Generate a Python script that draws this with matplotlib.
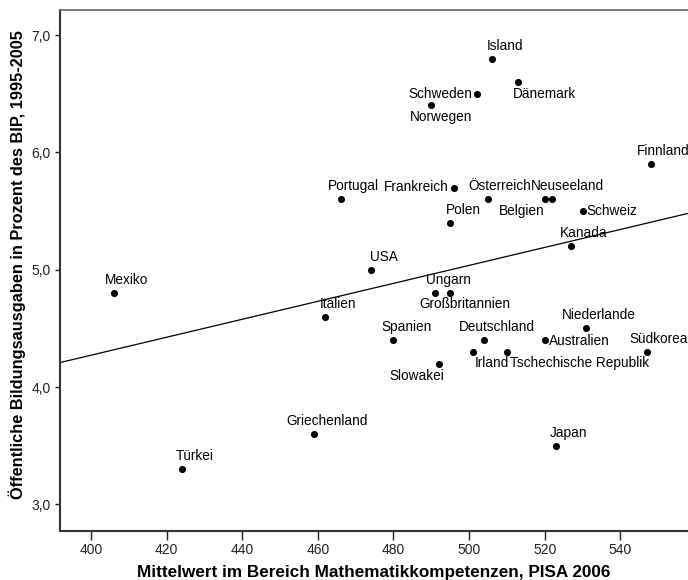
import numpy as np
import matplotlib
matplotlib.use("Agg")
import matplotlib.pyplot as plt

plt.rcParams['font.family'] = ['Liberation Sans', 'DejaVu Sans']

countries = ["Finnland", "Südkorea", "Niederlande", "Schweiz", "Kanada", "Japan",
             "Neuseeland", "Belgien", "Australien", "Dänemark", "Tschechische Republik",
             "Island", "Österreich", "Deutschland", "Schweden", "Irland", "Frankreich",
             "Großbritannien", "Polen", "Slowakei", "Ungarn", "Norwegen", "Spanien",
             "USA", "Portugal", "Italien", "Griechenland", "Türkei", "Mexiko"]
pisa_math = [548, 547, 531, 530, 527, 523, 522, 520, 520, 513, 510, 506, 505, 504,
             502, 501, 496, 495, 495, 492, 491, 490, 480, 474, 466, 462, 459, 424, 406]
edu_spend = [5.9, 4.3, 4.5, 5.5, 5.2, 3.5, 5.6, 5.6, 4.4, 6.6, 4.3, 6.8, 5.6, 4.4,
             6.5, 4.3, 5.7, 4.8, 5.4, 4.2, 4.8, 6.4, 4.4, 5.0, 5.6, 4.6, 3.6, 3.3, 4.8]

x_ticks = [400, 420, 440, 460, 480, 500, 520, 540]
y_ticks = [3.0, 4.0, 5.0, 6.0, 7.0]
y_tick_labels = ["3,0", "4,0", "5,0", "6,0", "7,0"]

# label placement (pixel offsets, y downwards in image sense) and alignment
default_off = (13, -13, 'center')
label_offsets = {
    "Dänemark": (26, 12, 'center'),
    "Schweden": (-4, 0, 'right'),
    "Norwegen": (10, 12, 'center'),
    "Frankreich": (-5, -1, 'right'),
    "Österreich": (12, -13, 'center'),
    "Neuseeland": (15, -13, 'center'),
    "Belgien": (-23.5, 12, 'center'),
    "Schweiz": (3.5, 0, 'left'),
    "Großbritannien": (14.3, 11, 'center'),
    "Australien": (4, 0.5, 'left'),
    "Irland": (19.5, 11.5, 'center'),
    "Tschechische Republik": (72.7, 11.5, 'center'),
    "Südkorea": (12, -13, 'center'),
    "Slowakei": (-22, 12.5, 'center'),
}

fig = plt.figure(figsize=(6.88, 5.80), dpi=100)
ax = fig.add_axes([60/688, (580-530.7)/580, (688-60)/688, (530.7-10)/580])

xlim = (391.8, 557.9)
ylim = (2.775, 7.214)
ax.set_xlim(*xlim)
ax.set_ylim(*ylim)

# regression line
slope, intercept = np.polyfit(pisa_math, edu_spend, 1)
xs = np.array(xlim)
ax.plot(xs, intercept + slope * xs, color='black', lw=0.9, zorder=2)

ax.scatter(pisa_math, edu_spend, s=26, color='black', zorder=3, linewidths=0)

for name, xv, yv in zip(countries, pisa_math, edu_spend):
    dx, dy, ha = label_offsets.get(name, default_off)
    ax.annotate(name, (xv, yv), xytext=(dx, -dy), textcoords='offset pixels',
                ha=ha, va='center', fontsize=9.8, color='black', zorder=4,
                annotation_clip=False)

ax.set_xticks(x_ticks)
ax.set_xticklabels([str(t) for t in x_ticks])
ax.set_yticks(y_ticks)
ax.set_yticklabels(y_tick_labels)
ax.tick_params(axis='x', direction='out', length=6.5, width=1.0, pad=2,
               labelsize=10, colors='#222222')
ax.tick_params(axis='y', direction='out', length=3.8, width=1.0, pad=3,
               labelsize=10, colors='#222222')

for side in ['left', 'bottom']:
    ax.spines[side].set_color('#333333')
    ax.spines[side].set_linewidth(1.5)
ax.spines['top'].set_color('#666666')
ax.spines['top'].set_linewidth(1.2)
ax.spines['right'].set_visible(False)

fig.text((60 + 688) / 2 / 688, 1 - 572/580,
         "Mittelwert im Bereich Mathematikkompetenzen, PISA 2006",
         ha='center', va='center', fontsize=12.3, fontweight='bold')
fig.text(17/688, 1 - 265/580,
         "Öffentliche Bildungsausgaben in Prozent des BIP, 1995-2005",
         ha='center', va='center', rotation=90, fontsize=11.8, fontweight='bold')

fig.savefig("out.png", dpi=100, facecolor='white')
